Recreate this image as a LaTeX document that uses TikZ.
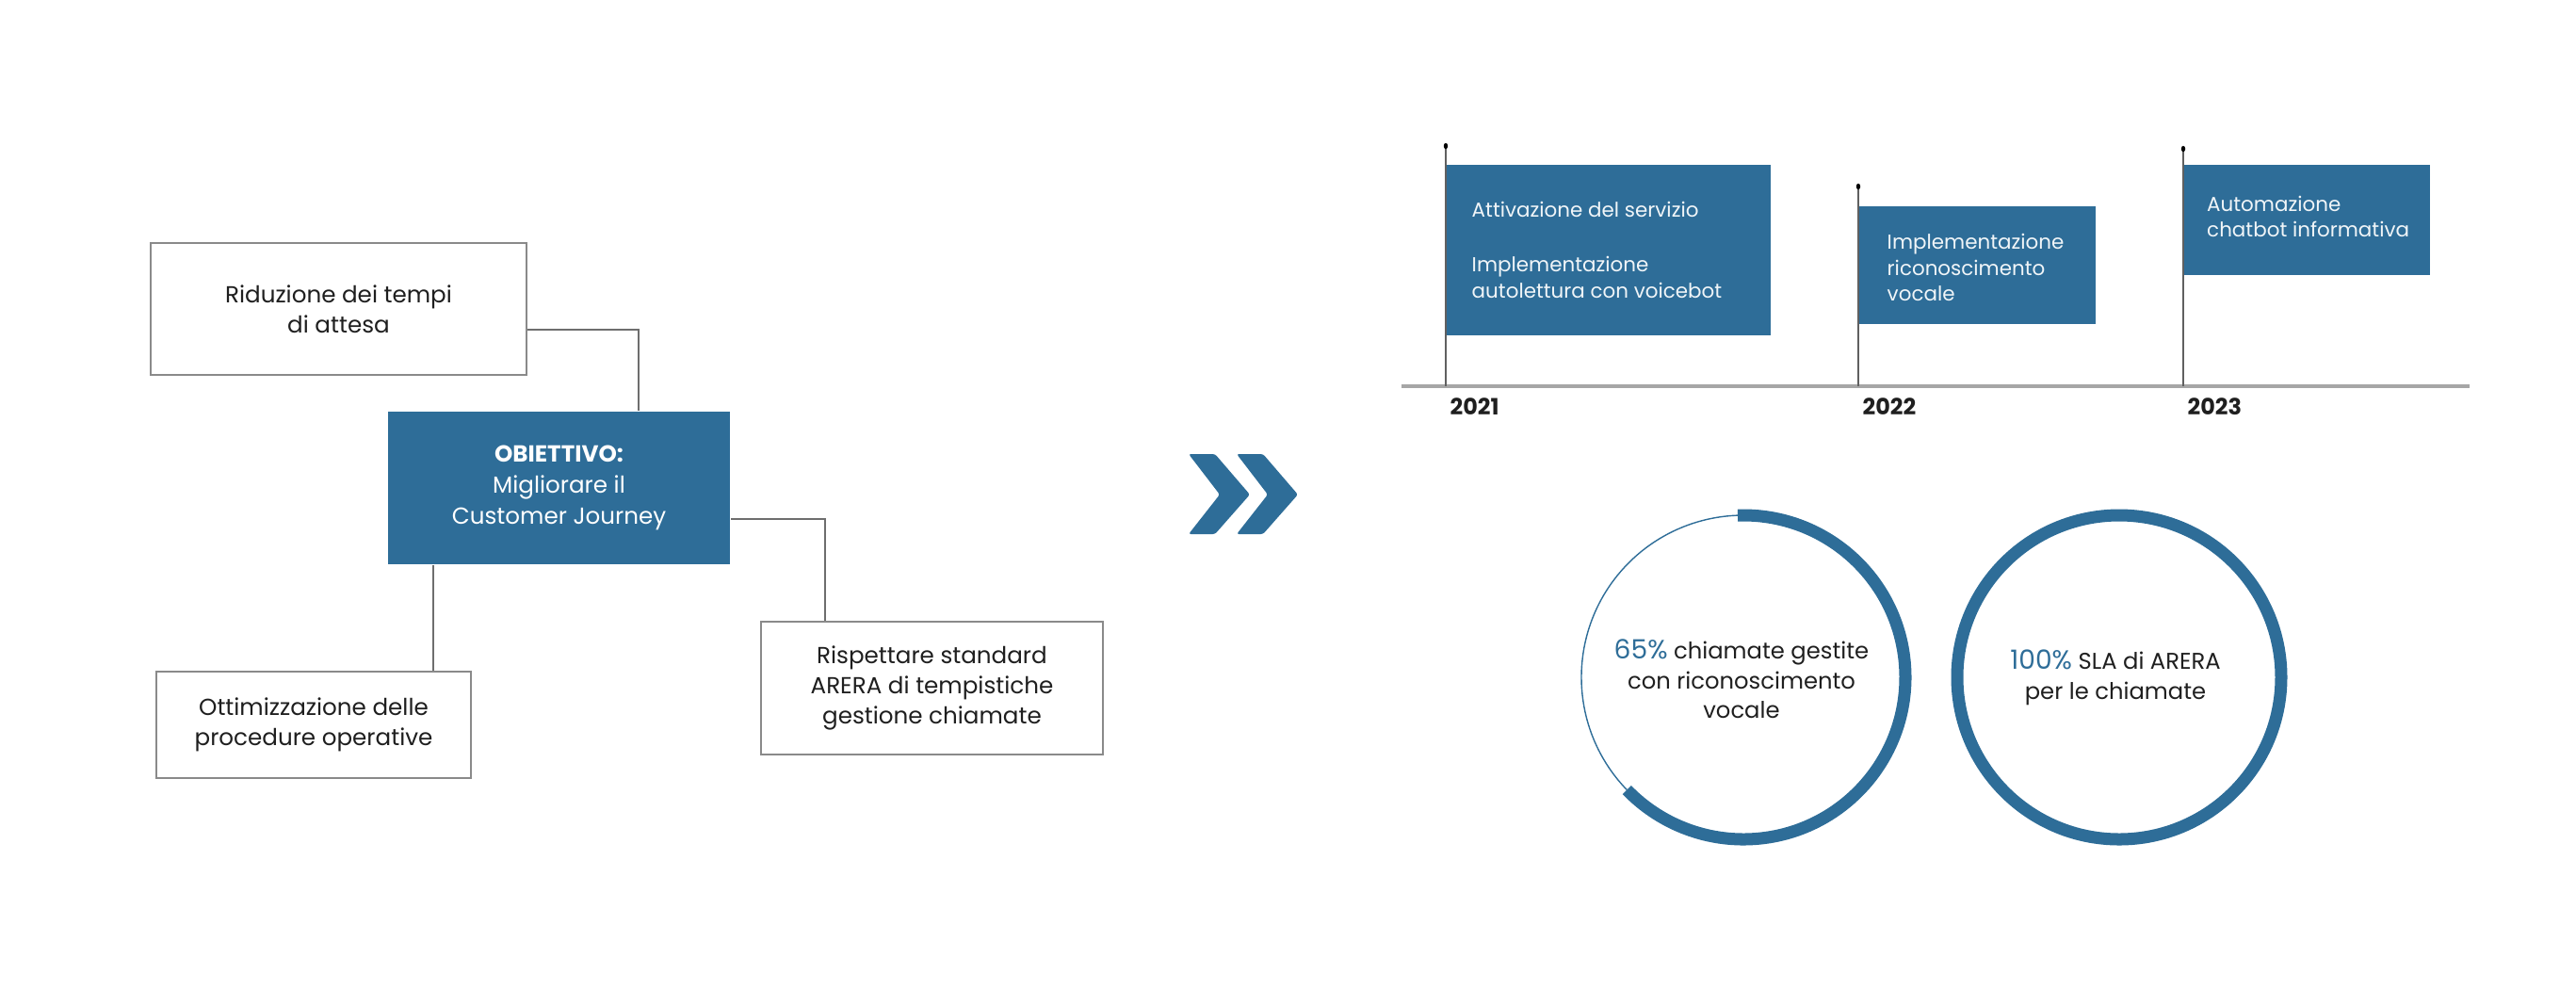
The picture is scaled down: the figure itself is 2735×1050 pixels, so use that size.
\documentclass[tikz,border=0pt]{standalone}
\usepackage{fontspec}
\setmainfont{Poppins}
\definecolor{navy}{HTML}{2E6D98}
\definecolor{ink}{HTML}{1F1F1F}
\definecolor{rule}{HTML}{8A8A8A}
\newcommand{\statnum}[1]{{\color{navy}\fontsize{8}{9}\selectfont #1}}

\begin{document}
\begin{tikzpicture}[x=0.01cm,y=-0.01cm,
    goal/.style={draw=rule,line width=0.45pt,fill=white,text=ink,align=center,inner sep=0pt,font=\fontsize{7}{9}\selectfont},
    target/.style={fill=navy,text=white,align=center,inner sep=0pt,font=\fontsize{7}{9.3}\selectfont},
    link/.style={draw=rule!80!black,line width=0.45pt},
    flag/.style={fill=navy,anchor=north west,inner sep=0pt},
    flagtext/.style={anchor=west,text=white!93!navy,align=left,inner sep=0pt,font=\fontsize{6.1}{7.8}\selectfont},
    pole/.style={draw=gray!75!black,line width=0.35pt},
    axis/.style={draw=gray!70,line width=0.9pt},
    year/.style={anchor=north west,inner sep=0pt,text=ink,font=\fontsize{6.8}{8}\bfseries\selectfont},
    ring/.style={draw=navy,line width=3.7pt},
    thinring/.style={draw=navy,line width=0.4pt},
    stat/.style={text=ink,align=center,inner sep=0pt,font=\fontsize{6.9}{9}\selectfont}
]
\useasboundingbox (0,0) rectangle (2735,1050);

\node[goal,minimum width=3.99cm,minimum height=1.40cm] (riduz) at (359.5,328) {Riduzione dei tempi\\di attesa};
\node[target,minimum width=3.63cm,minimum height=1.62cm] (obiet) at (593.5,518) {\textbf{OBIETTIVO:}\\Migliorare il\\Customer Journey};
\node[goal,minimum width=3.34cm,minimum height=1.13cm] (ottim) at (333,769.5) {Ottimizzazione delle\\procedure operative};
\node[goal,minimum width=3.63cm,minimum height=1.41cm] (rispet) at (989.5,730.5) {Rispettare standard\\ARERA di tempistiche\\gestione chiamate};

\draw[link] ([yshift=-0.22cm]riduz.east) -| ([xshift=0.845cm]obiet.north);
\coordinate (drop) at ([xshift=-1.335cm]obiet.south);
\draw[link] (drop) -- (drop |- ottim.north);
\draw[link] ([yshift=-0.33cm]obiet.east) -| ([xshift=-1.135cm]rispet.north);

\foreach \dx in {0,51}
  \fill[navy,rounded corners=0.7pt,shift={(\dx,0)}] (1262,482) -- (1290,482) -- (1327,525) -- (1290,567) -- (1262,567) -- (1295,525) -- cycle;

\coordinate (axl) at (1488,410);
\coordinate (axr) at (2622,410);
\draw[axis] (axl) -- (axr);

\coordinate (p21) at (1535,155);
\coordinate (p22) at (1973,198);
\coordinate (p23) at (2318,158);
\foreach \p in {p21,p22,p23} {
  \draw[pole] (\p) -- (\p |- axl);
  \fill[black] (\p) ellipse[x radius=2.2,y radius=3.2];
}

\node[flag,minimum width=3.44cm,minimum height=1.81cm] (f21) at (1535,174) {};
\node[flag,minimum width=2.51cm,minimum height=1.25cm] (f22) at (1973,218) {};
\node[flag,minimum width=2.61cm,minimum height=1.17cm] (f23) at (2318,174) {};
\node[flagtext] (t21) at ([xshift=0.27cm]f21.west) {Attivazione del servizio\\[0.31cm]Implementazione\\autolettura con voicebot};
\node[flagtext] (t22) at ([xshift=0.30cm,yshift=-0.03cm]f22.west) {Implementazione\\riconoscimento\\vocale};
\node[flagtext] (t23) at ([xshift=0.245cm,yshift=0.035cm]f23.west) {Automazione\\chatbot informativa};

\node[year] (y21) at (1539,422) {2021};
\node[year] (y22) at (1977,422) {2022};
\node[year] (y23) at (2322,422) {2023};

\coordinate (c65) at (1851,719);
\coordinate (c100) at (2250,719);
\draw[thinring] (c65) ++(136:172) arc[start angle=136,end angle=268,radius=172];
\draw[ring] (c65) ++(-92:172) arc[start angle=-92,end angle=136,radius=172];
\draw[ring] (c100) circle[radius=172];

\node[stat] (s65) at (1849,721) {\statnum{65\%} chiamate gestite\\con riconoscimento\\vocale};
\node[stat] (s100) at (2246,719) {\statnum{100\%} SLA di ARERA\\per le chiamate};
\end{tikzpicture}
\end{document}
